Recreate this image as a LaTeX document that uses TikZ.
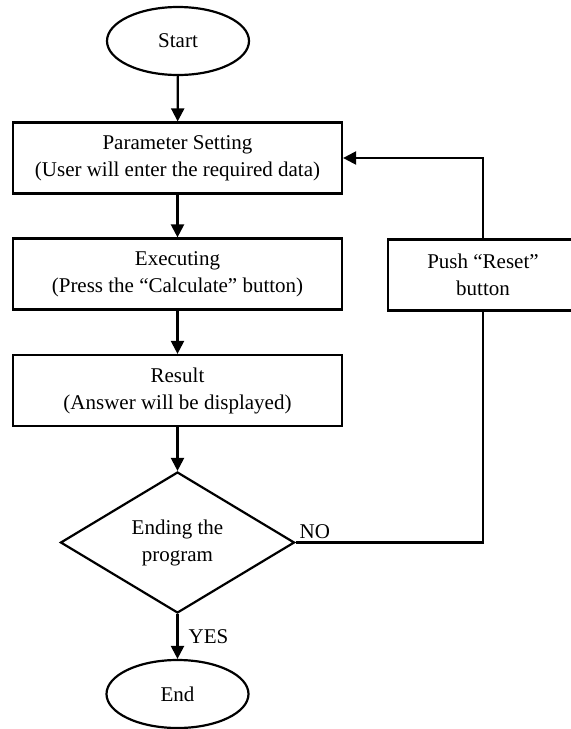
\documentclass[tikz,border=0pt]{standalone}
\usepackage{fontspec}
\setmainfont{Liberation Serif}
\usetikzlibrary{shapes.geometric,arrows.meta}
\tikzset{
  term/.style={draw, ellipse, inner sep=0pt, minimum width=71pt, minimum height=34pt},
  proc/.style={draw, rectangle, align=center, inner sep=0pt, minimum width=164.5pt, minimum height=35.5pt},
  dec/.style={draw, diamond, align=center, inner sep=0pt, minimum width=117pt, minimum height=70.5pt},
  e/.style={-{Triangle[length=6.5pt, width=6.5pt]}}
}

\begin{document}
\begin{tikzpicture}[x=0.5pt, y=-0.5pt, line width=1.1pt,
    font=\fontsize{10.5}{13.5}\selectfont]
  \useasboundingbox (0,0) rectangle (571,729);

  \node[term] (start) at (178,41) {Start};
  \node[proc] (param) at (177.5,158) {Parameter Setting\\(User will enter the required data)};
  \node[proc] (exec) at (177.5,274) {Executing\\(Press the ``Calculate'' button)};
  \node[proc] (result) at (177.5,390.5) {Result\\(Answer will be displayed)};
  \node[dec] (ending) at (177.5,542.5) {Ending the\\program};
  \node[term] (stop) at (177.5,694) {End};

  \node[proc, minimum width=95pt] (reset) at (483,275) {Push ``Reset''\\button};

  \draw[e] (start) -- (param);
  \draw[e] (param) -- (exec);
  \draw[e] (exec) -- (result);
  \draw[e] (result) -- (ending);
  \draw[e] (ending) -- node[right, inner sep=5pt] {YES} (stop);
  \draw (ending.east) -| node[pos=0, above right, inner sep=1.5pt] {NO} (reset.south);
  \draw[e] (reset.north) |- (param.east);
\end{tikzpicture}
\end{document}
